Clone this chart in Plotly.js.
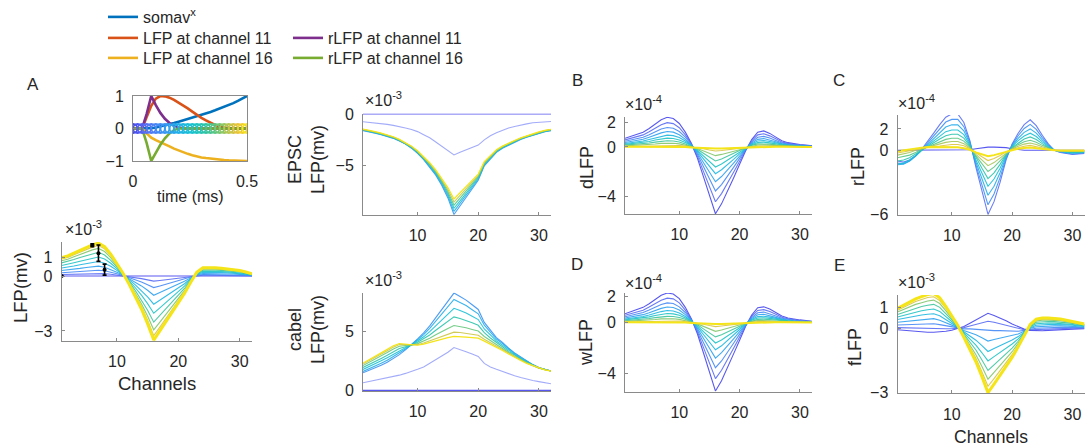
<!DOCTYPE html>
<html><head><meta charset="utf-8">
<script src="https://cdn.plot.ly/plotly-3.0.1.min.js"></script>
<style>html,body{margin:0;padding:0;background:#fff}#chart{width:1088px;height:448px}</style>
</head><body><div id="chart"></div>
<script>
// ---------------- DATA ----------------
const channels = [1,2,3,4,5,6,7,8,9,10,11,12,13,14,15,16,17,18,19,20,21,22,23,24,25,26,27,28,29,30,31,32];

// inset: time courses (ms)
const timeMs = [0,0.02,0.04,0.06,0.08,0.1,0.12,0.14,0.16,0.18,0.2,0.22,0.24,0.26,0.28,0.3,0.32,0.34,0.36,0.38,0.4,0.42,0.44,0.46,0.48,0.5];
const somav = [0,0,0,0,0.01,0.03,0.06,0.09,0.13,0.17,0.21,0.25,0.29,0.33,0.37,0.41,0.46,0.51,0.56,0.61,0.67,0.72,0.78,0.85,0.92,1.0];
const lfpCh11 = [0,0,0,0.35,0.7,0.92,1.0,0.99,0.95,0.88,0.8,0.72,0.62,0.52,0.42,0.33,0.25,0.17,0.11,0.06,0.03,0.01,0,0,0,0];
const lfpCh16 = [0,0,0,-0.15,-0.28,-0.36,-0.42,-0.47,-0.55,-0.62,-0.68,-0.74,-0.78,-0.82,-0.86,-0.89,-0.91,-0.93,-0.95,-0.96,-0.97,-0.98,-0.99,-1,-1,-1];
const rlfpCh11 = [0,0,0,0.45,1.0,0.72,0.48,0.3,0.17,0.08,0.03,0,0,0,0,0,0,0,0,0,0,0,0,0,0,0];
const rlfpCh16 = [0,0,0,-0.45,-1.0,-0.75,-0.5,-0.3,-0.15,-0.05,0,0,0,0,0,0,0,0,0,0,0,0,0,0,0,0];
const markerLevel = [0,0,0,0,0,0,0,0,0,0,0,0,0,0,0,0,0,0,0,0,0,0,0,0,0,0];
const legendNames = ['somav<sup>x</sup>','LFP at channel 11','LFP at channel 16','rLFP at channel 11','rLFP at channel 16'];

// panel A: LFP (x1e-3 mV), one row per time step
const lfpRows = [
[0,0,0,0,0,0,0,0,0,0,0,0,0,0,0,0,0,0,0,0,0,0,0,0,0,0,0,0,0,0,0,0],
[0.08,0.09,0.1,0.11,0.12,0.14,0.14,0.13,0.1,0.06,0.01,-0.04,-0.09,-0.14,-0.21,-0.28,-0.24,-0.2,-0.16,-0.12,-0.08,-0.03,0.02,0.04,0.04,0.04,0.03,0.03,0.03,0.02,0.02,0.01],
[0.18,0.2,0.23,0.25,0.28,0.31,0.32,0.29,0.22,0.13,0.03,-0.08,-0.2,-0.32,-0.47,-0.63,-0.54,-0.45,-0.36,-0.27,-0.17,-0.06,0.04,0.08,0.08,0.08,0.08,0.07,0.06,0.05,0.04,0.02],
[0.3,0.33,0.38,0.42,0.47,0.51,0.54,0.48,0.36,0.21,0.05,-0.14,-0.33,-0.54,-0.78,-1.05,-0.9,-0.75,-0.6,-0.45,-0.29,-0.1,0.06,0.14,0.14,0.14,0.13,0.12,0.11,0.09,0.07,0.04],
[0.44,0.48,0.55,0.62,0.68,0.75,0.79,0.7,0.53,0.31,0.07,-0.2,-0.48,-0.79,-1.14,-1.54,-1.32,-1.1,-0.88,-0.66,-0.42,-0.15,0.09,0.2,0.21,0.2,0.19,0.18,0.16,0.13,0.1,0.05],
[0.58,0.64,0.73,0.81,0.9,0.99,1.04,0.93,0.7,0.41,0.09,-0.26,-0.64,-1.04,-1.51,-2.03,-1.74,-1.45,-1.16,-0.87,-0.55,-0.2,0.12,0.26,0.27,0.26,0.25,0.23,0.21,0.17,0.13,0.07],
[0.72,0.79,0.9,1.01,1.12,1.22,1.3,1.15,0.86,0.5,0.11,-0.32,-0.79,-1.3,-1.87,-2.52,-2.16,-1.8,-1.44,-1.08,-0.68,-0.25,0.14,0.32,0.34,0.32,0.31,0.29,0.26,0.22,0.16,0.09],
[0.84,0.92,1.05,1.18,1.3,1.43,1.51,1.34,1.01,0.59,0.13,-0.38,-0.92,-1.51,-2.18,-2.94,-2.52,-2.1,-1.68,-1.26,-0.8,-0.29,0.17,0.38,0.39,0.38,0.36,0.34,0.3,0.25,0.18,0.1],
[0.93,1.02,1.16,1.3,1.44,1.58,1.67,1.49,1.12,0.65,0.14,-0.42,-1.02,-1.67,-2.42,-3.26,-2.79,-2.33,-1.86,-1.4,-0.88,-0.33,0.19,0.42,0.44,0.42,0.4,0.37,0.33,0.28,0.2,0.11],
[1.0,1.1,1.25,1.4,1.55,1.7,1.8,1.6,1.2,0.7,0.15,-0.45,-1.1,-1.8,-2.6,-3.5,-3.0,-2.5,-2.0,-1.5,-0.95,-0.35,0.2,0.45,0.47,0.45,0.43,0.4,0.36,0.3,0.22,0.12]
];
// panel A: black markers with error bars
const errChannels = [1,6,7,8];
const errMean = [0,1.68,1.25,0.35];
const errSpread = [0,0.08,0.45,0.3];

// EPSC LFP (x1e-3 mV)
const epscRows = [
[0,0,0,0,0,0,0,0,0,0,0,0,0,0,0,0,0,0,0,0,0,0,0,0,0,0,0,0,0,0,0,0],
[-0.75,-0.8,-0.85,-0.9,-1.0,-1.1,-1.2,-1.35,-1.5,-1.7,-2.0,-2.3,-2.7,-3.1,-3.5,-3.95,-3.7,-3.45,-3.2,-3.0,-2.5,-2.1,-1.8,-1.55,-1.35,-1.2,-1.05,-0.95,-0.85,-0.8,-0.75,-0.72],
[-1.6,-1.7,-1.85,-2.0,-2.15,-2.35,-2.6,-2.9,-3.3,-3.8,-4.4,-5.1,-5.9,-6.9,-8.1,-9.7,-8.9,-8.0,-7.2,-6.4,-5.0,-4.3,-3.7,-3.3,-3.0,-2.7,-2.45,-2.25,-2.05,-1.85,-1.7,-1.6],
[-1.57,-1.67,-1.82,-1.97,-2.12,-2.32,-2.57,-2.87,-3.26,-3.75,-4.34,-5.02,-5.8,-6.76,-7.9,-9.4,-8.64,-7.8,-7.04,-6.28,-4.92,-4.24,-3.65,-3.26,-2.96,-2.67,-2.42,-2.22,-2.02,-1.82,-1.68,-1.58],
[-1.54,-1.64,-1.79,-1.94,-2.09,-2.29,-2.54,-2.84,-3.22,-3.7,-4.28,-4.94,-5.7,-6.62,-7.7,-9.1,-8.38,-7.6,-6.88,-6.16,-4.84,-4.18,-3.6,-3.22,-2.92,-2.64,-2.39,-2.19,-1.99,-1.8,-1.65,-1.55],
[-1.51,-1.61,-1.76,-1.91,-2.06,-2.26,-2.51,-2.81,-3.18,-3.65,-4.22,-4.86,-5.6,-6.48,-7.5,-8.8,-8.12,-7.4,-6.72,-6.04,-4.76,-4.12,-3.55,-3.18,-2.88,-2.61,-2.36,-2.16,-1.96,-1.77,-1.63,-1.53],
[-1.48,-1.58,-1.73,-1.88,-2.03,-2.23,-2.48,-2.78,-3.14,-3.6,-4.16,-4.78,-5.5,-6.34,-7.3,-8.5,-7.86,-7.2,-6.56,-5.92,-4.68,-4.06,-3.5,-3.14,-2.84,-2.58,-2.33,-2.13,-1.93,-1.75,-1.6,-1.5],
[-1.45,-1.55,-1.7,-1.85,-2.0,-2.2,-2.45,-2.75,-3.1,-3.55,-4.1,-4.7,-5.4,-6.2,-7.1,-8.2,-7.6,-7.0,-6.4,-5.8,-4.6,-4.0,-3.45,-3.1,-2.8,-2.55,-2.3,-2.1,-1.9,-1.72,-1.58,-1.48]
];

// cabel LFP (x1e-3 mV)
const cabelRows = [
[0,0,0,0,0,0,0,0,0,0,0,0,0,0,0,0,0,0,0,0,0,0,0,0,0,0,0,0,0,0,0,0],
[0.65,0.75,0.85,0.95,1.05,1.15,1.3,1.45,1.6,1.8,2.0,2.3,2.6,2.9,3.25,3.65,3.5,3.3,3.1,2.9,2.3,2.0,1.8,1.6,1.4,1.25,1.1,0.95,0.85,0.75,0.65,0.57],
[1.5,1.7,1.9,2.15,2.4,2.7,3.05,3.45,3.9,4.4,4.9,5.5,6.2,6.9,7.6,8.3,8.0,7.7,7.3,6.9,5.8,5.1,4.5,4.1,3.6,3.2,2.85,2.5,2.2,1.95,1.8,1.65],
[1.62,1.84,2.05,2.31,2.57,2.87,3.19,3.53,3.89,4.32,4.76,5.29,5.91,6.53,7.14,7.75,7.49,7.23,6.88,6.53,5.56,4.93,4.38,4.0,3.53,3.14,2.81,2.47,2.19,1.94,1.79,1.65],
[1.79,2.02,2.25,2.52,2.79,3.09,3.38,3.63,3.88,4.21,4.57,5.01,5.52,6.03,6.52,7.0,6.81,6.6,6.32,6.04,5.24,4.7,4.22,3.86,3.43,3.06,2.75,2.43,2.17,1.93,1.78,1.65],
[1.96,2.2,2.45,2.73,3.0,3.3,3.57,3.73,3.87,4.1,4.38,4.73,5.13,5.52,5.9,6.27,6.13,5.97,5.76,5.55,4.92,4.47,4.06,3.72,3.33,2.98,2.69,2.39,2.15,1.92,1.77,1.65],
[2.12,2.38,2.65,2.94,3.23,3.53,3.76,3.83,3.86,3.99,4.19,4.45,4.74,5.03,5.28,5.53,5.45,5.34,5.2,5.06,4.6,4.24,3.9,3.58,3.23,2.9,2.63,2.35,2.13,1.91,1.76,1.65],
[2.25,2.51,2.8,3.1,3.39,3.69,3.91,3.9,3.86,3.9,4.05,4.24,4.45,4.65,4.81,4.97,4.94,4.87,4.78,4.7,4.36,4.07,3.78,3.47,3.15,2.84,2.58,2.32,2.11,1.9,1.76,1.65],
[2.33,2.6,2.9,3.2,3.5,3.8,4.0,3.95,3.85,3.85,3.95,4.1,4.25,4.4,4.5,4.6,4.6,4.55,4.5,4.45,4.2,3.95,3.7,3.4,3.1,2.8,2.55,2.3,2.1,1.9,1.75,1.65]
];

// B: dLFP (x1e-4)
const dlfpRows = [
[0.7,0.85,1.0,1.2,1.5,1.85,2.2,2.4,2.3,1.9,1.2,0.3,-0.9,-2.4,-4.0,-5.4,-4.6,-3.6,-2.5,-1.4,-0.3,0.6,1.2,1.3,1.1,0.8,0.5,0.35,0.25,0.2,0.15,0.1],
[0.57,0.7,0.82,0.98,1.23,1.52,1.8,1.97,1.89,1.56,0.98,0.25,-0.74,-1.97,-3.28,-4.43,-3.77,-2.95,-2.05,-1.15,-0.25,0.49,0.98,1.07,0.9,0.66,0.41,0.29,0.21,0.16,0.12,0.08],
[0.46,0.56,0.66,0.79,0.99,1.22,1.45,1.58,1.52,1.25,0.79,0.2,-0.59,-1.58,-2.64,-3.56,-3.04,-2.38,-1.65,-0.92,-0.2,0.4,0.79,0.86,0.73,0.53,0.33,0.23,0.17,0.13,0.1,0.07],
[0.36,0.44,0.52,0.62,0.78,0.96,1.14,1.25,1.2,0.99,0.62,0.16,-0.47,-1.25,-2.08,-2.81,-2.39,-1.87,-1.3,-0.73,-0.16,0.31,0.62,0.68,0.57,0.42,0.26,0.18,0.13,0.1,0.08,0.05],
[0.28,0.34,0.4,0.48,0.6,0.74,0.88,0.96,0.92,0.76,0.48,0.12,-0.36,-0.96,-1.6,-2.16,-1.84,-1.44,-1.0,-0.56,-0.12,0.24,0.48,0.52,0.44,0.32,0.2,0.14,0.1,0.08,0.06,0.04],
[0.21,0.26,0.3,0.36,0.45,0.56,0.66,0.72,0.69,0.57,0.36,0.09,-0.27,-0.72,-1.2,-1.62,-1.38,-1.08,-0.75,-0.42,-0.09,0.18,0.36,0.39,0.33,0.24,0.15,0.11,0.08,0.06,0.05,0.03],
[0.15,0.18,0.21,0.25,0.32,0.39,0.46,0.5,0.48,0.4,0.25,0.06,-0.19,-0.5,-0.84,-1.13,-0.97,-0.76,-0.53,-0.29,-0.06,0.13,0.25,0.27,0.23,0.17,0.11,0.07,0.05,0.04,0.03,0.02],
[0.09,0.11,0.13,0.16,0.2,0.24,0.29,0.31,0.3,0.25,0.16,0.04,-0.12,-0.31,-0.52,-0.7,-0.6,-0.47,-0.33,-0.18,-0.04,0.08,0.16,0.17,0.14,0.1,0.07,0.05,0.03,0.03,0.02,0.01],
[0.04,0.05,0.06,0.07,0.09,0.11,0.13,0.14,0.14,0.11,0.07,0.02,-0.05,-0.14,-0.24,-0.32,-0.28,-0.22,-0.15,-0.08,-0.02,0.04,0.07,0.08,0.07,0.05,0.03,0.02,0.02,0.01,0.01,0.01],
[0.02,0.02,0.02,0.02,0.03,0.04,0.04,0.04,0.04,0.03,0.0,-0.05,-0.08,-0.1,-0.12,-0.12,-0.12,-0.1,-0.08,-0.06,-0.04,-0.02,0.0,0.01,0.02,0.02,0.01,0.01,0.01,0.0,0.0,0.0]
];

// C: rLFP (x1e-4)
const rlfpRows = [
[0,0,0,0,0,0,0,0,0,0,0,0,0.05,0.15,0.25,0.3,0.3,0.3,0.25,0.15,0.05,0,0,0,0,0,0,0,0,0,0,0],
[-1.0,-1.1,-0.9,-0.5,0.1,0.8,1.6,2.4,3.1,3.4,3.4,2.6,0.9,-1.6,-3.8,-6.0,-4.8,-3.0,-0.9,0.6,1.6,2.4,2.85,2.3,1.4,0.6,0.0,-0.2,-0.3,-0.4,-0.35,-0.3],
[-1.2,-1.25,-1.0,-0.55,0.05,0.68,1.36,2.04,2.64,2.89,2.89,2.21,0.77,-1.36,-3.23,-5.1,-4.08,-2.55,-0.77,0.51,1.36,2.04,2.42,1.96,1.19,0.51,0.0,-0.17,-0.26,-0.34,-0.3,-0.26],
[-1.35,-1.3,-1.0,-0.55,0.0,0.56,1.12,1.68,2.17,2.38,2.38,1.82,0.63,-1.12,-2.66,-4.2,-3.36,-2.1,-0.63,0.42,1.12,1.68,2.0,1.61,0.98,0.42,0.0,-0.14,-0.21,-0.28,-0.25,-0.21],
[-1.3,-1.2,-0.9,-0.5,0.0,0.45,0.9,1.34,1.74,1.9,1.9,1.46,0.5,-0.9,-2.13,-3.36,-2.69,-1.68,-0.5,0.34,0.9,1.34,1.6,1.29,0.78,0.34,0.0,-0.11,-0.17,-0.22,-0.2,-0.17],
[-1.0,-0.9,-0.7,-0.35,0.05,0.35,0.7,1.06,1.36,1.5,1.5,1.14,0.4,-0.7,-1.67,-2.64,-2.11,-1.32,-0.4,0.26,0.7,1.06,1.25,1.01,0.62,0.26,0.0,-0.09,-0.13,-0.18,-0.15,-0.13],
[-0.7,-0.6,-0.45,-0.2,0.1,0.3,0.53,0.79,1.02,1.12,1.12,0.86,0.3,-0.53,-1.25,-1.98,-1.58,-0.99,-0.3,0.2,0.53,0.79,0.94,0.76,0.46,0.2,0.0,-0.07,-0.1,-0.13,-0.12,-0.1],
[-0.45,-0.35,-0.2,0.0,0.15,0.3,0.42,0.58,0.74,0.82,0.82,0.62,0.22,-0.38,-0.91,-1.44,-1.15,-0.72,-0.22,0.14,0.38,0.58,0.68,0.55,0.34,0.14,0.0,-0.05,-0.07,-0.1,-0.08,-0.07],
[-0.25,-0.15,0.0,0.1,0.2,0.3,0.35,0.4,0.5,0.54,0.54,0.42,0.14,-0.26,-0.61,-0.96,-0.77,-0.48,-0.14,0.1,0.26,0.38,0.46,0.37,0.22,0.1,0.0,-0.03,-0.05,-0.06,-0.06,-0.05],
[-0.1,0.0,0.1,0.2,0.25,0.3,0.3,0.3,0.3,0.3,0.28,0.2,0.05,-0.2,-0.4,-0.55,-0.45,-0.3,-0.1,0.05,0.15,0.22,0.25,0.2,0.12,0.05,0.0,-0.02,-0.03,-0.03,-0.03,-0.02]
];

// D: wLFP (x1e-4)
const wlfpRows = [
[0.68,0.83,0.98,1.18,1.46,1.8,2.12,2.3,2.22,1.86,1.18,0.3,-0.88,-2.36,-3.95,-5.35,-4.55,-3.55,-2.45,-1.38,-0.3,0.58,1.15,1.22,1.05,0.78,0.5,0.35,0.25,0.2,0.15,0.1],
[0.56,0.68,0.8,0.96,1.2,1.48,1.74,1.9,1.84,1.53,0.96,0.25,-0.73,-1.94,-3.24,-4.38,-3.73,-2.91,-2.01,-1.13,-0.25,0.47,0.94,1.0,0.86,0.64,0.41,0.29,0.21,0.16,0.12,0.08],
[0.45,0.55,0.65,0.78,0.97,1.19,1.4,1.53,1.48,1.22,0.78,0.2,-0.58,-1.56,-2.61,-3.53,-3.0,-2.35,-1.62,-0.91,-0.2,0.38,0.76,0.81,0.69,0.51,0.33,0.23,0.17,0.13,0.1,0.07],
[0.35,0.43,0.51,0.61,0.76,0.94,1.1,1.21,1.17,0.97,0.61,0.16,-0.46,-1.23,-2.05,-2.78,-2.36,-1.85,-1.28,-0.72,-0.16,0.3,0.6,0.64,0.54,0.4,0.26,0.18,0.13,0.1,0.08,0.05],
[0.27,0.33,0.39,0.47,0.58,0.72,0.85,0.93,0.9,0.74,0.47,0.12,-0.35,-0.94,-1.58,-2.13,-1.82,-1.42,-0.98,-0.55,-0.12,0.23,0.46,0.49,0.42,0.31,0.2,0.14,0.1,0.08,0.06,0.04],
[0.2,0.25,0.29,0.35,0.44,0.54,0.64,0.7,0.67,0.56,0.35,0.09,-0.26,-0.71,-1.18,-1.6,-1.36,-1.06,-0.74,-0.41,-0.09,0.17,0.35,0.37,0.32,0.23,0.15,0.11,0.08,0.06,0.05,0.03],
[0.14,0.17,0.2,0.25,0.31,0.38,0.45,0.48,0.47,0.39,0.25,0.06,-0.18,-0.5,-0.83,-1.12,-0.95,-0.75,-0.51,-0.29,-0.06,0.12,0.24,0.26,0.22,0.16,0.11,0.07,0.05,0.04,0.03,0.02],
[0.09,0.11,0.13,0.15,0.19,0.23,0.28,0.3,0.29,0.24,0.15,0.04,-0.11,-0.31,-0.51,-0.69,-0.59,-0.46,-0.32,-0.18,-0.04,0.08,0.15,0.16,0.14,0.1,0.07,0.05,0.03,0.03,0.02,0.01],
[0.04,0.05,0.06,0.07,0.09,0.11,0.13,0.14,0.13,0.11,0.07,0.02,-0.05,-0.14,-0.24,-0.32,-0.27,-0.21,-0.15,-0.08,-0.02,0.04,0.07,0.08,0.07,0.05,0.03,0.02,0.02,0.01,0.01,0.01],
[0.02,0.02,0.02,0.02,0.03,0.04,0.04,0.04,0.04,0.03,0.0,-0.05,-0.08,-0.1,-0.12,-0.12,-0.12,-0.1,-0.08,-0.06,-0.04,-0.02,0.0,0.01,0.02,0.02,0.01,0.01,0.01,0.0,0.0,0.0]
];

// E: fLFP (x1e-3)
const flfpRows = [
[-0.05,-0.08,-0.1,-0.13,-0.15,-0.17,-0.17,-0.16,-0.12,-0.07,0.0,0.1,0.25,0.4,0.55,0.72,0.62,0.5,0.37,0.22,0.08,-0.02,-0.08,-0.1,-0.1,-0.08,-0.06,-0.04,-0.03,-0.02,-0.01,0],
[0.05,0.04,0.04,0.02,0.02,0.01,0.01,0.0,0.0,0.0,0.02,0.05,0.13,0.2,0.27,0.35,0.3,0.23,0.15,0.06,-0.01,-0.05,-0.05,-0.05,-0.04,-0.02,-0.01,0.01,0.01,0.02,0.02,0.02],
[0.17,0.18,0.2,0.21,0.21,0.22,0.23,0.19,0.14,0.08,0.03,-0.01,-0.01,-0.03,-0.07,-0.1,-0.09,-0.09,-0.11,-0.13,-0.12,-0.08,-0.02,0.02,0.03,0.05,0.06,0.07,0.06,0.06,0.05,0.05],
[0.3,0.33,0.37,0.41,0.43,0.45,0.47,0.4,0.29,0.16,0.05,-0.08,-0.17,-0.28,-0.43,-0.58,-0.51,-0.45,-0.39,-0.33,-0.25,-0.12,0.02,0.09,0.11,0.12,0.13,0.13,0.12,0.11,0.09,0.08],
[0.43,0.49,0.55,0.6,0.64,0.68,0.7,0.61,0.44,0.25,0.07,-0.14,-0.33,-0.54,-0.79,-1.07,-0.93,-0.8,-0.67,-0.53,-0.37,-0.15,0.05,0.16,0.19,0.2,0.2,0.2,0.18,0.16,0.13,0.11],
[0.55,0.63,0.71,0.79,0.84,0.89,0.92,0.81,0.58,0.33,0.09,-0.2,-0.47,-0.77,-1.13,-1.51,-1.31,-1.12,-0.93,-0.72,-0.48,-0.19,0.09,0.23,0.26,0.27,0.26,0.25,0.23,0.2,0.16,0.13],
[0.67,0.77,0.87,0.97,1.04,1.1,1.14,1.0,0.72,0.41,0.11,-0.26,-0.61,-1.0,-1.47,-1.96,-1.7,-1.44,-1.19,-0.91,-0.59,-0.22,0.12,0.3,0.33,0.34,0.33,0.31,0.28,0.25,0.2,0.16],
[0.78,0.9,1.02,1.14,1.22,1.3,1.34,1.18,0.85,0.49,0.12,-0.32,-0.75,-1.22,-1.77,-2.37,-2.05,-1.74,-1.43,-1.08,-0.69,-0.25,0.15,0.36,0.4,0.4,0.39,0.37,0.33,0.29,0.23,0.18],
[0.87,1.01,1.14,1.28,1.37,1.46,1.5,1.32,0.96,0.55,0.14,-0.36,-0.85,-1.39,-2.03,-2.7,-2.34,-1.98,-1.63,-1.22,-0.78,-0.28,0.18,0.41,0.45,0.45,0.44,0.41,0.37,0.32,0.26,0.2],
[0.95,1.1,1.25,1.4,1.5,1.6,1.65,1.45,1.05,0.6,0.15,-0.4,-0.95,-1.55,-2.25,-3.0,-2.6,-2.2,-1.8,-1.35,-0.85,-0.3,0.2,0.45,0.5,0.5,0.48,0.45,0.4,0.35,0.28,0.22]
];

const channelTicks = [10,20,30];

// ---------------- STYLE ----------------
const FONT = 'Liberation Sans, Arial, Helvetica, sans-serif';
const TXT = '#262626';
const AXC = '#8a8a8a';
const W = 1088, H = 448;
const cmapStops = [[0,'#4646ee'],[0.12,'#5a6ff5'],[0.25,'#3f8ff5'],[0.4,'#22b0ea'],[0.52,'#18c3d2'],[0.64,'#2ec4a6'],[0.75,'#6cc877'],[0.85,'#bfc64a'],[0.93,'#f0c23a'],[1,'#f4e418']];
function hx(h){return [parseInt(h.slice(1,3),16),parseInt(h.slice(3,5),16),parseInt(h.slice(5,7),16)];}
function cmap(f){
  for(let i=1;i<cmapStops.length;i++){
    if(f<=cmapStops[i][0]){
      const a=hx(cmapStops[i-1][1]), b=hx(cmapStops[i][1]);
      const u=(f-cmapStops[i-1][0])/(cmapStops[i][0]-cmapStops[i-1][0]);
      return 'rgb('+a.map((v,k)=>Math.round(v+(b[k]-v)*u)).join(',')+')';
    }
  }
  return cmapStops[cmapStops.length-1][1];
}
function px(x){return x/W;} function py(y){return 1-y/H;}

const traces = [];
function family(rows, n, fracs, wLast, wBase, faint){
  const id = n===1?'':String(n);
  rows.forEach((row,i)=>{
    traces.push({type:'scatter',mode:'lines',x:channels,y:row,xaxis:'x'+id,yaxis:'y'+id,
      line:{color:cmap(fracs[i]),width:i===rows.length-1?wLast:wBase},
      opacity:(faint&&faint.indexOf(i)>=0)?0.55:(i===rows.length-1?1:0.9),
      showlegend:false,hoverinfo:'skip'});
  });
}
function even(n){const a=[];for(let i=0;i<n;i++)a.push(i/(n-1));return a;}

// inset lines, each with its own one-row legend
const insetSeries = [somav,lfpCh11,lfpCh16,rlfpCh11,rlfpCh16];
const insetColors = ['#0072BD','#D95319','#EDB120','#7E2F8E','#77AC30'];
const legendIds = ['legend','legend2','legend3','legend4','legend5'];
insetSeries.forEach((y,i)=>{
  traces.push({type:'scatter',mode:'lines',x:timeMs,y:y,name:legendNames[i],xaxis:'x',yaxis:'y',
    line:{color:insetColors[i],width:2.6},legend:legendIds[i],hoverinfo:'skip'});
});
traces.push({type:'scatter',mode:'markers',x:timeMs,y:markerLevel,xaxis:'x',yaxis:'y',showlegend:false,hoverinfo:'skip',
  marker:{symbol:'circle-open',size:9,color:timeMs,cmin:0,cmax:0.5,colorscale:cmapStops,line:{width:1.8}}});

family(lfpRows,2,even(lfpRows.length),3,1.1);
traces.push({type:'scatter',mode:'markers',x:errChannels,y:errMean,xaxis:'x2',yaxis:'y2',showlegend:false,hoverinfo:'skip',
  marker:{color:'#000',size:4},error_y:{type:'data',array:errSpread,color:'#000',thickness:1.6,width:2}});
family(epscRows,3,[0,0.1,0.28,0.42,0.56,0.7,0.85,1],1.2,1.1,[1]);
family(cabelRows,4,[0,0.1,0.26,0.38,0.5,0.62,0.74,0.87,1],1.2,1.1,[1]);
family(dlfpRows,5,even(dlfpRows.length),2,1.1);
family(rlfpRows,6,[0,0.12,0.25,0.38,0.5,0.62,0.72,0.82,0.9,1],2,1.1);
family(wlfpRows,7,even(wlfpRows.length),2,1.1);
family(flfpRows,8,even(flfpRows.length),3,1.1);

function xax(x0,x1,anchor,range,tickvals,extra){
  return Object.assign({domain:[px(x0),px(x1)],anchor:anchor,range:range,tickvals:tickvals,showline:true,linecolor:AXC,linewidth:1,
    ticks:'inside',ticklen:3,tickcolor:AXC,showgrid:false,zeroline:false,fixedrange:true,ticklabelstandoff:6,
    tickfont:{family:FONT,size:16,color:TXT}},extra||{});
}
function yax(ytop,ybot,anchor,range,tickvals,extra){
  return Object.assign({domain:[py(ybot),py(ytop)],anchor:anchor,range:range,tickvals:tickvals,showline:true,linecolor:AXC,linewidth:1,
    ticks:'inside',ticklen:3,tickcolor:AXC,showgrid:false,zeroline:false,fixedrange:true,ticklabelstandoff:5,
    tickfont:{family:FONT,size:16,color:TXT}},extra||{});
}
const legendRows = [[103,17],[103,38],[103,58],[288,38],[288,58]];
const layout = {
  width:W,height:H,margin:{l:0,r:0,t:0,b:0},paper_bgcolor:'#fff',plot_bgcolor:'rgba(0,0,0,0)',
  font:{family:FONT,color:TXT},showlegend:true,
  xaxis: xax(133,247,'y',[0,0.5],[0,0.5],{mirror:true}),
  yaxis: yax(96,161,'x',[-1,1],[-1,0,1],{mirror:true}),
  xaxis2: xax(61.6,252,'y2',[1,32],channelTicks),
  yaxis2: yax(242,341,'x2',[-3.55,1.86],[-3,0,1]),
  xaxis3: xax(363,551,'y3',[1,32],channelTicks),
  yaxis3: yax(113.5,215,'x3',[-9.75,0.05],[-5,0]),
  xaxis4: xax(363,551,'y4',[1,32],channelTicks),
  yaxis4: yax(292.7,391,'x4',[-0.05,8.33],[0,5]),
  xaxis5: xax(625,812,'y5',[1,32],channelTicks),
  yaxis5: yax(116.7,214,'x5',[-5.42,2.45],[-4,0,2]),
  xaxis6: xax(897.5,1084.5,'y6',[1,32],channelTicks),
  yaxis6: yax(115,215,'x6',[-6.05,3.3],[-6,0,2]),
  xaxis7: xax(625,812,'y7',[1,32],channelTicks),
  yaxis7: yax(293,391.7,'x7',[-5.4,2.3],[-4,0,2]),
  xaxis8: xax(897.5,1084.5,'y8',[1,32],channelTicks),
  yaxis8: yax(295,393.3,'x8',[-3.03,1.58],[-3,0,1]),
  annotations:[]
};
legendIds.forEach((id,i)=>{
  layout[id]={x:px(legendRows[i][0]),y:py(legendRows[i][1]),xanchor:'left',yanchor:'middle',bgcolor:'rgba(0,0,0,0)',
    borderwidth:0,font:{family:FONT,size:16,color:TXT},itemwidth:30};
});
function ann(text,x,y,size,extra){
  layout.annotations.push(Object.assign({text:text,x:px(x),y:py(y),xref:'paper',yref:'paper',showarrow:false,
    xanchor:'center',yanchor:'middle',font:{family:FONT,size:size,color:TXT}},extra||{}));
}
// panel letters
ann('A',33,84,17); ann('B',577,81,17); ann('C',839,81,17); ann('D',577,264,17); ann('E',839,265,17);
// multipliers
const mult3='×10<sup>-3</sup>', mult4='×10<sup>-4</sup>';
ann(mult3,63,228,16,{xanchor:'left'}); ann(mult3,363,99,16,{xanchor:'left'}); ann(mult3,363,279,16,{xanchor:'left'});
ann(mult4,623,103,16,{xanchor:'left'}); ann(mult4,623,282,16,{xanchor:'left'});
ann(mult4,896,102,16,{xanchor:'left'}); ann(mult3,896,281,16,{xanchor:'left'});
// axis titles
ann('time (ms)',190,197,16); ann('Channels',157,383,18.5); ann('Channels',991,437,17.5);
ann('LFP(mv)',20,288,18.5,{textangle:-90});
ann('EPSC<br>LFP(mv)',306,160,18,{textangle:-90});
ann('cabel<br>LFP(mv)',306,330,18,{textangle:-90});
ann('dLFP',587,168,18,{textangle:-90}); ann('rLFP',858,167,18,{textangle:-90});
ann('wLFP',586,343,18,{textangle:-90}); ann('fLFP',855,347,18,{textangle:-90});

Plotly.newPlot('chart',traces,layout,{staticPlot:true,displayModeBar:false});
</script>
</body></html>
